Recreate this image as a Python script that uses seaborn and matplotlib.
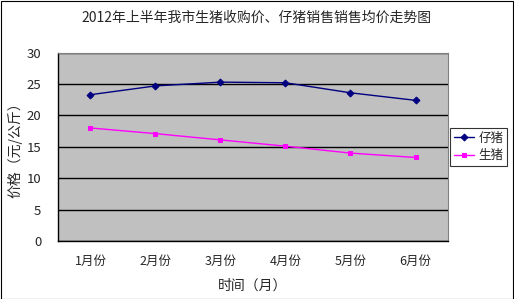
import matplotlib
matplotlib.use("Agg")
import matplotlib.pyplot as plt
import seaborn as sns
import pandas as pd
import numpy as np

months = ["1月份", "2月份", "3月份", "4月份", "5月份", "6月份"]
piglet = [23.3, 24.7, 25.3, 25.2, 23.6, 22.4]
hog = [18.0, 17.1, 16.1, 15.1, 14.0, 13.3]
series_names = ["仔猪", "生猪"]
yticks = [0, 5, 10, 15, 20, 25, 30]

sns.set_theme(style="white")
plt.rcParams['font.family'] = ['Noto Sans CJK SC', 'DejaVu Sans']

df = pd.DataFrame({
    "x": list(range(len(months))) * 2,
    "value": piglet + hog,
    "series": [series_names[0]] * len(months) + [series_names[1]] * len(months),
})

fig = plt.figure(figsize=(5.14, 2.99), dpi=100)
ax = fig.add_axes([0.1128, 0.194, 0.7588, 0.630])
ax.set_facecolor("#C0C0C0")

sns.lineplot(data=df, x="x", y="value", hue="series", style="series",
             markers={"仔猪": "D", "生猪": "s"}, dashes=False,
             palette={"仔猪": "#000080", "生猪": "#FF00FF"},
             markersize=3.5, linewidth=1, ax=ax, legend=True)
for l in ax.lines:
    l.set_markeredgecolor(l.get_color())

ax.set_xlim(-0.5, len(months) - 0.5)
ax.set_ylim(0, 30)
ax.set_yticks(yticks)
ax.set_yticklabels([str(v) for v in yticks], fontsize=9.5)
ax.set_xticks(range(len(months)))
ax.set_xticklabels(months, fontsize=9)
ax.set_xticks(np.arange(-0.5, len(months), 1), minor=True)
ax.tick_params(axis="x", which="major", length=0, pad=10)
ax.tick_params(axis="x", which="minor", length=4, direction="in", color="black", width=0.8)
ax.tick_params(axis="y", length=3, direction="out", color="black", width=0.8, pad=9)
ax.yaxis.grid(True, color="black", linewidth=1)
ax.set_axisbelow(True)

for s in ["top", "right"]:
    ax.spines[s].set_color("#808080")
    ax.spines[s].set_linewidth(0.8)
for s in ["left", "bottom"]:
    ax.spines[s].set_color("black")
    ax.spines[s].set_linewidth(1)

ax.set_xlabel("时间（月）", fontsize=10, labelpad=8)
ax.set_ylabel("价格（元/公斤）", fontsize=10)
ax.yaxis.set_label_coords(-0.092, 0.5)
fig.suptitle("2012年上半年我市生猪收购价、仔猪销售销售均价走势图", fontsize=10, x=0.5, y=0.965)

leg = ax.legend(loc="center left", bbox_to_anchor=(1.005, 0.5), frameon=True,
                fontsize=9, fancybox=False, borderpad=0.3, handlelength=1.6,
                handletextpad=0.4, borderaxespad=0, labelspacing=0.35)
leg.get_frame().set_edgecolor("black")
leg.get_frame().set_linewidth(0.8)
leg.set_title(None)

fig.patches.append(plt.Rectangle((0.001, 0.001), 0.997, 0.997, transform=fig.transFigure,
                                 fill=False, edgecolor="black", linewidth=0.8))
fig.savefig("out.png", dpi=100)
